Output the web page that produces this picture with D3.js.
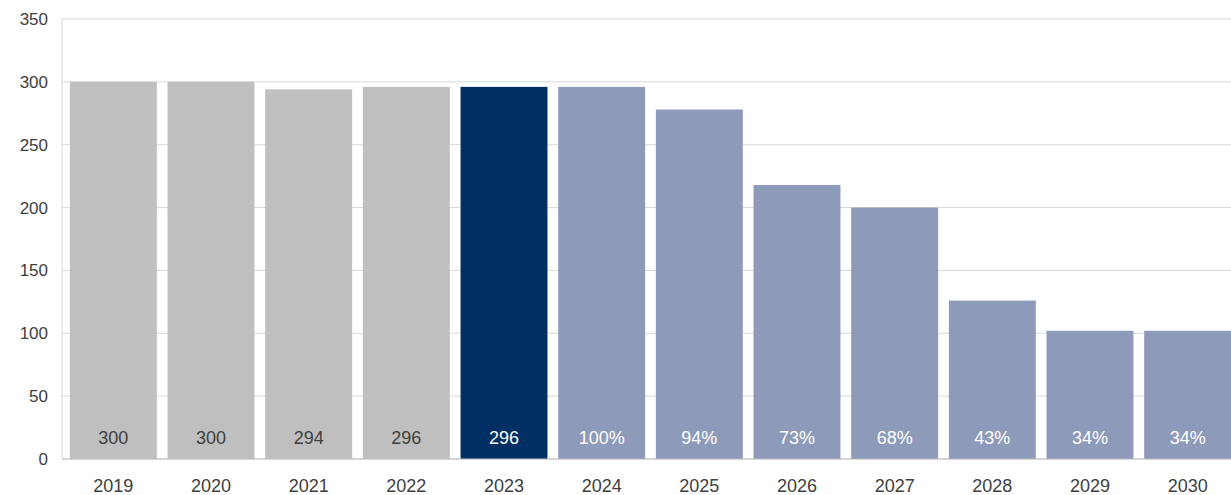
<!DOCTYPE html>
<html><head><meta charset="utf-8">
<script src="https://cdn.jsdelivr.net/npm/d3@7"></script>
<style>body{margin:0;background:#fff}text{font-family:"Liberation Sans",Arial,sans-serif}</style>
</head><body><svg id="c" width="1231" height="495"></svg>
<script>
var years = ["2019","2020","2021","2022","2023","2024","2025","2026","2027","2028","2029","2030"];
var values = [300,300,294,296,296,296,278,218,200,126,102,102];
var labels = ["300","300","294","296","296","100%","94%","73%","68%","43%","34%","34%"];
var colors = ["#bfbfbf","#bfbfbf","#bfbfbf","#bfbfbf","#003063","#8e9aba","#8e9aba","#8e9aba","#8e9aba","#8e9aba","#8e9aba","#8e9aba"];
var yTicks = [0,50,100,150,200,250,300,350];

var svg = d3.select("#c");
var m = {l: 62, t: 19, b: 36};
var W = 1231, H = 495;
var x = d3.scaleBand().domain(years).range([65, 1236]).paddingInner(0.11).paddingOuter(0.05);
var y = d3.scaleLinear().domain([0, 350]).range([H - m.b, m.t]);

// gridlines
svg.append("g").selectAll("line").data(yTicks).join("line")
  .attr("x1", m.l).attr("x2", W).attr("y1", d => y(d)).attr("y2", d => y(d))
  .attr("stroke", "#d9d9d9").attr("stroke-width", 1);

svg.append("line").attr("x1", m.l).attr("x2", m.l).attr("y1", m.t).attr("y2", y(0)).attr("stroke", "#d9d9d9");

svg.append("g").selectAll("text").data(yTicks).join("text")
  .attr("x", m.l - 14).attr("y", d => y(d) + 6).attr("text-anchor", "end")
  .attr("font-size", 17).attr("fill", "#404040").text(d => d);

svg.append("g").selectAll("rect").data(years).join("rect")
  .attr("x", d => x(d)).attr("width", x.bandwidth())
  .attr("y", (d, i) => y(values[i])).attr("height", (d, i) => y(0) - y(values[i]))
  .attr("fill", (d, i) => colors[i]);

svg.append("g").selectAll("text").data(years).join("text")
  .attr("x", d => x(d) + x.bandwidth() / 2).attr("y", y(0) - 15).attr("text-anchor", "middle")
  .attr("font-size", 18).attr("fill", (d, i) => i < 4 ? "#404040" : "#fff").text((d, i) => labels[i]);

svg.append("line").attr("x1", m.l).attr("x2", W).attr("y1", y(0)).attr("y2", y(0)).attr("stroke", "#bfbfbf");

svg.append("g").selectAll("text").data(years).join("text")
  .attr("x", d => x(d) + x.bandwidth() / 2).attr("y", H - 3).attr("text-anchor", "middle")
  .attr("font-size", 18).attr("fill", "#404040").text(d => d);
</script></body></html>
